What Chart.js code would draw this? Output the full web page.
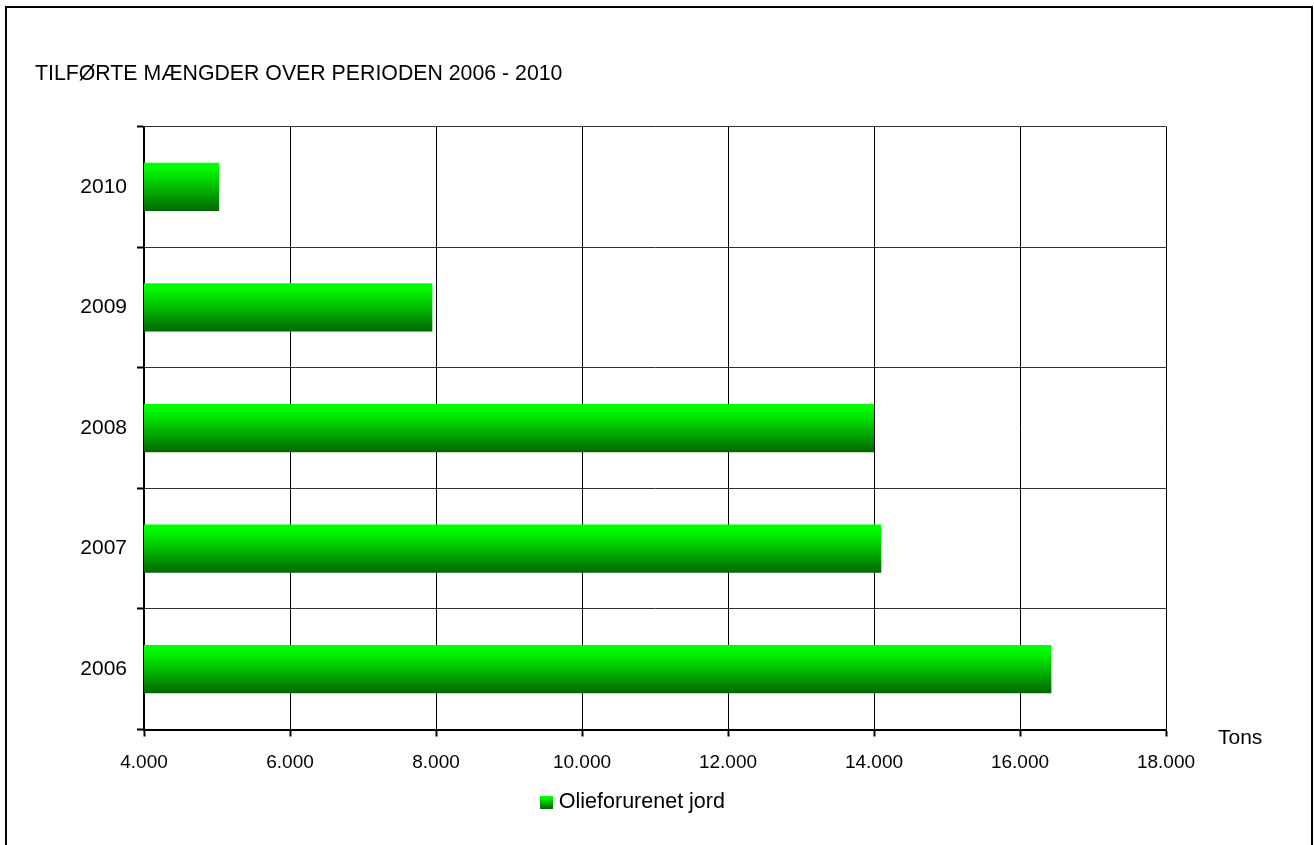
<!DOCTYPE html>
<html>
<head>
<meta charset="utf-8">
<script src="https://cdn.jsdelivr.net/npm/chart.js@4"></script>
<style>
    html, body { margin: 0; padding: 0; background: #fff; overflow: hidden; }
    #wrap { position: relative; width: 1314px; height: 845px; }
    #frame { position: absolute; left: 5px; top: 6px; width: 1304px; height: 860px; border: 2px solid #000; pointer-events: none; }
    canvas { position: absolute; left: 0; top: 0; }
</style>
</head>
<body>
<div id="wrap">
    <canvas id="tonsChart" width="1314" height="845"></canvas>
    <div id="frame"></div>
</div>
<script>
// data
const years = ['2010', '2009', '2008', '2007', '2006'];
const tons = [5030, 7950, 14000, 14100, 16430];
const seriesName = 'Olieforurenet jord';
const xMin = 4000;
const xMax = 18000;
const xStep = 2000;

const FONT = "'Liberation Sans', Arial, sans-serif";

// 4000 -> 4.000
function fmt(v) {
    return String(v).replace(/\B(?=(\d{3})+(?!\d))/g, '.');
}

function greenGradient(ctx, top, bottom) {
    const g = ctx.createLinearGradient(0, top, 0, bottom);
    g.addColorStop(0, '#00ff00');
    g.addColorStop(0.12, '#00fc00');
    g.addColorStop(1, '#006800');
    return g;
}

// vertical gradient per bar
function barFill(context) {
    const chart = context.chart;
    const y = chart.scales.y;
    if (!y || !chart.chartArea || context.type !== 'data') return '#00b000';
    const c = y.getPixelForValue(context.dataIndex);
    const half = y.height / years.length * 0.4 / 2;
    return greenGradient(chart.ctx, c - half, c + half);
}

// small gradient square for the legend
const legendBox = document.createElement('canvas');
legendBox.width = 13;
legendBox.height = 13;
const lctx = legendBox.getContext('2d');
lctx.fillStyle = greenGradient(lctx, 0, 13);
lctx.fillRect(0, 0, 13, 13);

// "Tons" next to the x axis + legend nudge
const extras = {
    id: 'extras',
    afterLayout(chart) {
        chart.legend.left += 34;
        chart.legend.right += 34;
    },
    afterDraw(chart) {
        const ctx = chart.ctx;
        const a = chart.chartArea;
        ctx.save();
        ctx.font = '21px ' + FONT;
        ctx.fillStyle = '#000';
        ctx.textAlign = 'left';
        ctx.textBaseline = 'middle';
        ctx.fillText('Tons', a.right + 52, a.bottom + 9);
        ctx.restore();
    }
};

const ctx = document.getElementById('tonsChart').getContext('2d');

new Chart(ctx, {
    type: 'bar',
    data: {
        labels: years,
        datasets: [{
            label: seriesName,
            data: tons,
            backgroundColor: barFill,
            borderWidth: 0,
            barPercentage: 0.4,
            categoryPercentage: 1.0
        }]
    },
    plugins: [extras],
    options: {
        indexAxis: 'y',
        responsive: false,
        animation: false,
        layout: { padding: { left: 35, right: 148, top: 0, bottom: 22 } },
        scales: {
            x: {
                min: xMin,
                max: xMax,
                border: { color: '#000', width: 2 },
                grid: { color: '#000', lineWidth: 1, tickLength: 7, tickColor: '#000', tickWidth: 2 },
                ticks: {
                    stepSize: xStep,
                    color: '#000',
                    padding: 15,
                    font: { family: FONT, size: 19 },
                    callback: v => fmt(v)
                },
                afterFit(scale) {
                    scale.height = 52;
                }
            },
            y: {
                border: { color: '#000', width: 2 },
                grid: { color: '#303030', lineWidth: 1, tickLength: 7, tickColor: '#000', tickWidth: 2 },
                ticks: {
                    color: '#000',
                    padding: 10,
                    font: { family: FONT, size: 21 }
                },
                afterFit(scale) {
                    scale.width = 109;
                }
            }
        },
        plugins: {
            title: {
                display: true,
                text: 'TILFØRTE MÆNGDER OVER PERIODEN 2006 - 2010',
                align: 'start',
                color: '#000',
                font: { family: FONT, size: 21.3, weight: 'normal' },
                padding: { top: 61, bottom: 40 }
            },
            legend: {
                position: 'bottom',
                labels: {
                    color: '#000',
                    font: { family: FONT, size: 21.5 },
                    usePointStyle: true,
                    boxWidth: 4,
                    boxHeight: 13,
                    padding: 10,
                    generateLabels: () => [{
                        text: seriesName,
                        pointStyle: legendBox,
                        fillStyle: '#00b000',
                        strokeStyle: 'transparent',
                        lineWidth: 0,
                        datasetIndex: 0
                    }]
                }
            },
            tooltip: { enabled: false }
        }
    }
});
</script>
</body>
</html>
